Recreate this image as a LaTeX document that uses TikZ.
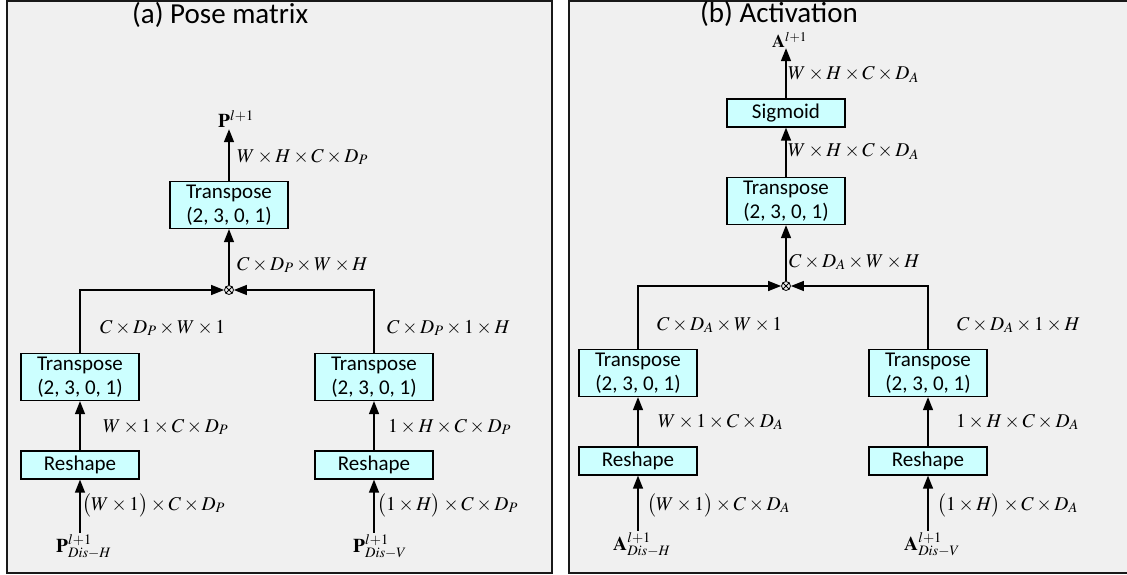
\documentclass[tikz,border=0pt]{standalone}
\usepackage{mathptmx}
\usepackage[no-math]{fontspec}
\setmainfont{Carlito}
\usetikzlibrary{arrows.meta}
\definecolor{boxcyan}{RGB}{204,255,255}
\definecolor{panelgray}{RGB}{240,240,240}
\tikzset{
  box/.style={draw,fill=boxcyan,line width=1.3pt,minimum width=118pt,align=center,inner sep=0pt,font=\fontsize{21}{24}\selectfont},
  twobox/.style={box,minimum height=47pt},
  onebox/.style={box,minimum height=28pt},
  dim/.style={anchor=base west,inner sep=0pt,font=\fontsize{19.5}{22}\selectfont},
  flow/.style={line width=1.5pt,-{Triangle[width=10pt,length=13pt]}},
  wire/.style={line width=1.5pt},
  mul/.style={circle,draw,line width=0.8pt,minimum size=9pt,inner sep=0pt},
  title/.style={anchor=base west,inner sep=0pt,font=\fontsize{29}{34}\selectfont},
  panel/.style={draw=black!90,fill=panelgray,line width=2pt}
}
\begin{document}
\begin{tikzpicture}[x=1pt,y=-1pt]
\useasboundingbox (0,0) rectangle (1127,575);

\draw[panel] (7,1) rectangle (552,573);
\draw[panel] (569,1) rectangle (1130,573);

\node[title]
(ta)
at (132,24)
{(a) Pose matrix};

\node[title]
(tb)
at (700,23)
{(b) Activation};

\node[dim,inner sep=1pt]
(Pa)
at (217,128)
{$\mathbf{P}^{l+1}$};

\node[twobox]
(Ta)
at (229,205)
{Transpose\\(2, 3, 0, 1)};

\node[mul]
(Xa)
at (229,290)
{};

\node[twobox]
(THa)
at (80,377)
{Transpose\\(2, 3, 0, 1)};

\node[onebox]
(RHa)
at (80,465)
{Reshape};

\node[twobox]
(TVa)
at (374,377)
{Transpose\\(2, 3, 0, 1)};

\node[onebox]
(RVa)
at (374,465)
{Reshape};

\node[dim,inner sep=1pt]
(IHa)
at (55,552)
{$\mathbf{P}^{l+1}_{Dis-H}$};

\node[dim,inner sep=1pt]
(IVa)
at (352,552)
{$\mathbf{P}^{l+1}_{Dis-V}$};

\node[dim] (da1) at (237,162) {$W\times H\times C\times D_P$};
\node[dim] (da2) at (237,270) {$C\times D_P\times W\times H$};
\node[dim] (da3) at (100,333) {$C\times D_P\times W\times 1$};
\node[dim] (da4) at (387,333) {$C\times D_P\times 1\times H$};
\node[dim] (da5) at (103,432) {$W\times 1\times C\times D_P$};
\node[dim] (da6) at (388,432) {$1\times H\times C\times D_P$};
\node[dim] (da7) at (82,510) {$\bigl(W\times 1\bigr)\times C\times D_P$};
\node[dim] (da8) at (377,510) {$\bigl(1\times H\bigr)\times C\times D_P$};

\draw[flow] (Ta.north) -- (Ta.north |- Pa.south);
\draw[flow] (Xa.north) -- (Ta.south);
\draw[flow] (THa.north) |- (Xa.west);
\draw[flow] (TVa.north) |- (Xa.east);
\draw[flow] (RHa.north) -- (THa.south);
\draw[flow] (RVa.north) -- (TVa.south);
\draw[flow] (RHa.south |- IHa.north) -- (RHa.south);
\draw[flow] (RVa.south |- IVa.north) -- (RVa.south);
\draw[line width=0.8pt] (Xa.45) -- (Xa.225) (Xa.135) -- (Xa.315);

\node[dim,font=\fontsize{18}{20}\selectfont]
(Ab)
at (772,48)
{$\mathbf{A}^{l+1}$};

\node[onebox]
(Sb)
at (786,113)
{Sigmoid};

\node[twobox]
(Tb)
at (786,201)
{Transpose\\(2, 3, 0, 1)};

\node[mul]
(Xb)
at (786,286)
{};

\node[twobox]
(THb)
at (638,373)
{Transpose\\(2, 3, 0, 1)};

\node[onebox]
(RHb)
at (638,461)
{Reshape};

\node[twobox]
(TVb)
at (928,373)
{Transpose\\(2, 3, 0, 1)};

\node[onebox]
(RVb)
at (928,461)
{Reshape};

\node[dim,inner sep=1pt]
(IHb)
at (612,550)
{$\mathbf{A}^{l+1}_{Dis-H}$};

\node[dim,inner sep=1pt]
(IVb)
at (903,550)
{$\mathbf{A}^{l+1}_{Dis-V}$};

\node[dim] (db1) at (788,80) {$W\times H\times C\times D_A$};
\node[dim] (db2) at (788,157) {$W\times H\times C\times D_A$};
\node[dim] (db3) at (789,267) {$C\times D_A\times W\times H$};
\node[dim] (db4) at (657,330) {$C\times D_A\times W\times 1$};
\node[dim] (db5) at (957,330) {$C\times D_A\times 1\times H$};
\node[dim] (db6) at (658,427) {$W\times 1\times C\times D_A$};
\node[dim] (db7) at (956,427) {$1\times H\times C\times D_A$};
\node[dim] (db8) at (647,510) {$\bigl(W\times 1\bigr)\times C\times D_A$};
\node[dim] (db9) at (937,510) {$\bigl(1\times H\bigr)\times C\times D_A$};

\draw[flow] (Sb.north) -- (Sb.north |- Ab.south);
\draw[flow] (Tb.north) -- (Sb.south);
\draw[flow] (Xb.north) -- (Tb.south);
\draw[flow] (THb.north) |- (Xb.west);
\draw[flow] (TVb.north) |- (Xb.east);
\draw[flow] (RHb.north) -- (THb.south);
\draw[flow] (RVb.north) -- (TVb.south);
\draw[flow] (RHb.south |- IHb.north) -- (RHb.south);
\draw[flow] (RVb.south |- IVb.north) -- (RVb.south);
\draw[line width=0.8pt] (Xb.45) -- (Xb.225) (Xb.135) -- (Xb.315);

\end{tikzpicture}
\end{document}
